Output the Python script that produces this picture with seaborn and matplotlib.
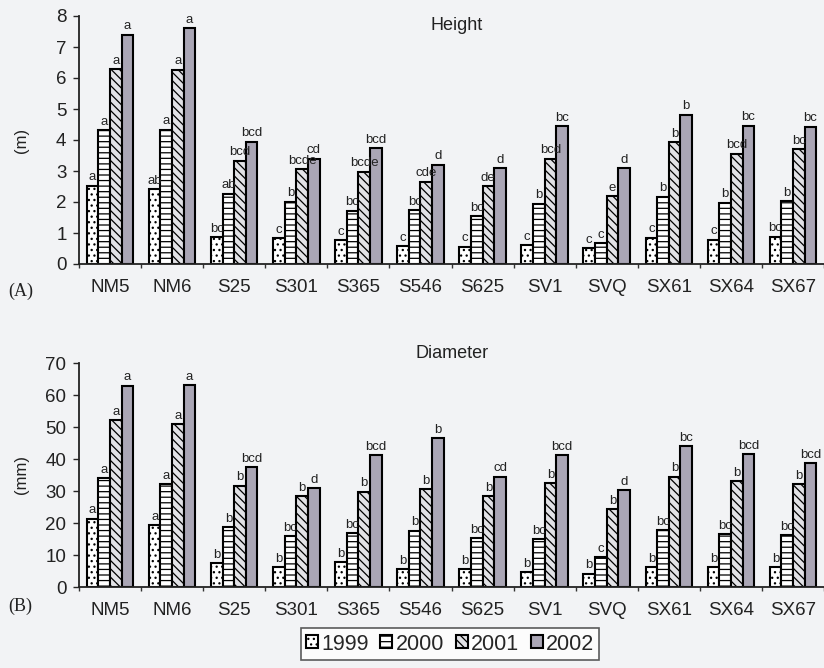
import numpy as np
import pandas as pd
import matplotlib
matplotlib.use("Agg")
import matplotlib.pyplot as plt
import seaborn as sns
from matplotlib.patches import Patch

clones = ["NM5", "NM6", "S25", "S301", "S365", "S546", "S625", "SV1", "SVQ", "SX61", "SX64", "SX67"]
years = ["1999", "2000", "2001", "2002"]

# Height (m)
height_1999 = [2.53, 2.42, 0.86, 0.83, 0.77, 0.57, 0.56, 0.61, 0.51, 0.84, 0.78, 0.88]
height_2000 = [4.32, 4.33, 2.26, 2.01, 1.72, 1.74, 1.54, 1.94, 0.67, 2.17, 1.97, 2.02]
height_2001 = [6.29, 6.26, 3.33, 3.06, 2.98, 2.65, 2.51, 3.39, 2.18, 3.92, 3.55, 3.71]
height_2002 = [7.39, 7.61, 3.95, 3.39, 3.73, 3.20, 3.09, 4.44, 3.09, 4.82, 4.46, 4.43]

height_let_1999 = ["a", "ab", "bc", "c", "c", "c", "c", "c", "c", "c", "c", "bc"]
height_let_2000 = ["a", "a", "ab", "b", "bc", "bc", "bc", "b", "c", "b", "b", "b"]
height_let_2001 = ["a", "a", "bcd", "bcde", "bcde", "cde", "de", "bcd", "e", "b", "bcd", "bc"]
height_let_2002 = ["a", "a", "bcd", "cd", "bcd", "d", "d", "bc", "d", "b", "bc", "bc"]

# Diameter (mm)
diam_1999 = [21.4, 19.3, 7.5, 6.3, 7.8, 5.7, 5.7, 4.7, 4.2, 6.1, 6.3, 6.1]
diam_2000 = [34.0, 32.1, 18.6, 15.9, 16.9, 17.6, 15.2, 14.9, 9.4, 17.8, 16.5, 16.2]
diam_2001 = [52.2, 51.0, 31.7, 28.5, 29.8, 30.6, 28.5, 32.4, 24.3, 34.5, 33.2, 32.2]
diam_2002 = [62.9, 63.1, 37.4, 30.8, 41.3, 46.5, 34.5, 41.3, 30.3, 44.1, 41.6, 38.7]

diam_let_1999 = ["a", "a", "b", "b", "b", "b", "b", "b", "b", "b", "b", "b"]
diam_let_2000 = ["a", "a", "b", "bc", "bc", "b", "bc", "bc", "c", "bc", "bc", "bc"]
diam_let_2001 = ["a", "a", "b", "b", "b", "b", "b", "b", "b", "b", "b", "b"]
diam_let_2002 = ["a", "a", "bcd", "d", "bcd", "b", "cd", "bcd", "d", "bc", "bcd", "bcd"]

def long_df(series):
    rows = []
    for yr, vals in zip(years, series):
        for c, v in zip(clones, vals):
            rows.append({"clone": c, "year": yr, "value": v})
    return pd.DataFrame(rows)

df_h = long_df([height_1999, height_2000, height_2001, height_2002])
df_d = long_df([diam_1999, diam_2000, diam_2001, diam_2002])
let_h = [height_let_1999, height_let_2000, height_let_2001, height_let_2002]
let_d = [diam_let_1999, diam_let_2000, diam_let_2001, diam_let_2002]

sns.set_theme(style="white")
plt.rcParams["font.family"] = ["Liberation Sans", "DejaVu Sans"]
plt.rcParams["hatch.linewidth"] = 0.9

bg = "#f2f3f5"
fills = ["white", "white", "#e2e2e6", "#aaa6b5"]
hatches = ["...", "---", "\\\\\\\\", None]

W, H = 824, 668
fig = plt.figure(figsize=(W / 100, H / 100), dpi=100, facecolor=bg)
ax1 = fig.add_axes([79 / W, 1 - 264 / H, 745 / W, 248 / H])
ax2 = fig.add_axes([79 / W, 1 - 587 / H, 745 / W, 224 / H])

def draw(ax, df, letters, ymax, ystep, off):
    sns.barplot(data=df, x="clone", y="value", hue="year", hue_order=years,
                order=clones, ax=ax, width=0.75, errorbar=None, legend=False,
                palette=fills, edgecolor="black", linewidth=1.5, saturation=1)
    texts = [[None] * 4 for _ in clones]
    for i, cont in enumerate(ax.containers):
        for j, bar in enumerate(cont):
            bar.set_facecolor(fills[i])
            bar.set_edgecolor("black")
            if hatches[i]:
                bar.set_hatch(hatches[i])
            texts[j][i] = ax.text(bar.get_x() + bar.get_width() / 2, bar.get_height() + off,
                                  letters[i][j], ha="center", va="bottom", fontsize=9.5,
                                  color="#222222")
    ax.set_facecolor("none")
    ax.set_xlim(-0.5, 11.5)
    ax.set_ylim(0, ymax)
    ax.set_yticks(np.arange(0, ymax + ystep / 2, ystep))
    ax.set_xticks(np.arange(-0.5, 12, 1))
    ax.set_xticklabels([])
    ax.set_xticks(np.arange(12), minor=True)
    ax.set_xticklabels(clones, minor=True, fontsize=13.5, color="#222222")
    ax.tick_params(axis="x", which="major", direction="out", length=3, width=1, color="#333333", bottom=True)
    ax.tick_params(axis="x", which="minor", length=0, pad=11, bottom=True)
    ax.tick_params(axis="y", direction="out", length=4, width=1, labelsize=13.5,
                   labelcolor="#222222", pad=5, left=True)
    for s in ["top", "right"]:
        ax.spines[s].set_visible(False)
    for s in ["left", "bottom"]:
        ax.spines[s].set_color("#222222")
        ax.spines[s].set_linewidth(1.3)
    ax.set_xlabel("")
    ax.set_ylabel("")
    return texts

texts_h = draw(ax1, df_h, let_h, 8, 1, 0.08)
texts_d = draw(ax2, df_d, let_d, 70, 10, 0.7)

# lift labels that collide with the previous label in the same group
fig.canvas.draw()
renderer = fig.canvas.get_renderer()
for ax, texts in [(ax1, texts_h), (ax2, texts_d)]:
    inv = ax.transData.inverted()
    for group in texts:
        for k in range(1, 4):
            prev, cur = group[k - 1], group[k]
            bp = prev.get_window_extent(renderer)
            bc = cur.get_window_extent(renderer)
            if bc.x0 < bp.x1 - 1 and bc.y0 < bp.y1 - 3 and bc.y1 > bp.y0:
                shift = bp.y1 - 3 - bc.y0
                x, y = cur.get_position()
                y0 = inv.transform((0, 0))[1]
                y1 = inv.transform((0, shift))[1]
                cur.set_position((x, y + (y1 - y0)))

fig.text(457 / W, 1 - 25 / H, "Height", ha="center", va="center", fontsize=13, color="#222222")
fig.text(452 / W, 1 - 353 / H, "Diameter", ha="center", va="center", fontsize=13, color="#222222")
fig.text(22 / W, 1 - 140 / H, "(m)", ha="center", va="center", rotation=90, fontsize=12, color="#222222")
fig.text(22 / W, 1 - 475 / H, "(mm)", ha="center", va="center", rotation=90, fontsize=12, color="#222222")
fig.text(8 / W, 1 - 291 / H, "(A)", ha="left", va="center", fontsize=13, color="#222222", family="Liberation Serif")
fig.text(8 / W, 1 - 606 / H, "(B)", ha="left", va="center", fontsize=13, color="#222222", family="Liberation Serif")

handles = [Patch(facecolor=fills[i], edgecolor="black", hatch=hatches[i], linewidth=1.5, label=years[i])
           for i in range(4)]
leg = fig.legend(handles=handles, loc="lower center", bbox_to_anchor=(450 / W, -0.004), ncol=4,
                 fontsize=15.5, handlelength=0.55, handleheight=0.55, handletextpad=0.15,
                 columnspacing=0.55, frameon=True, fancybox=False, borderpad=0.25)
leg.get_frame().set_edgecolor("#333333")
leg.get_frame().set_linewidth(1.2)
leg.get_frame().set_facecolor("white")

fig.savefig("out.png", dpi=100, facecolor=bg)
